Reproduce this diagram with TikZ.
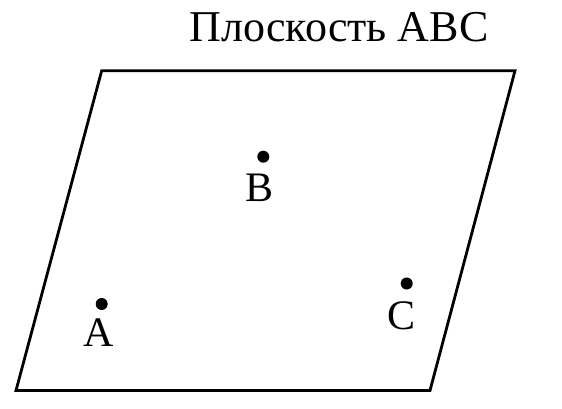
\documentclass[tikz,border=0pt]{standalone}
\usepackage{fontspec}
\setmainfont{Liberation Serif}
\begin{document}
\begin{tikzpicture}[x=1pt,y=-1pt,
  plane/.style={line width=2.8pt,line join=miter},
  pt/.style={circle,fill=black,inner sep=0pt,minimum size=12pt},
  lbl/.style={anchor=base,inner sep=0pt,font=\fontsize{42}{42}\selectfont},
  ttl/.style={anchor=base,inner sep=0pt,font=\fontsize{44}{44}\selectfont}]
\useasboundingbox (0,0) rectangle (562,409);
\coordinate (tl) at (101.7,70.7);
\coordinate (tr) at (515,70.7);
\coordinate (br) at (430,390.5);
\coordinate (bl) at (16,390.5);
\draw[plane] (tl) -- (tr) -- (br) -- (bl) -- cycle;
\node[ttl] (title) at (339,42) {Плоскость ABC};
\node[pt] (b) at (263.3,156.7) {};
\node[pt] (a) at (101.7,304) {};
\node[pt] (c) at (406.7,283.5) {};
\node[lbl] (lb) at (259.5,201) {B};
\node[lbl] (la) at (99,346.5) {A};
\node[lbl] (lc) at (402,329) {C};
\end{tikzpicture}
\end{document}
